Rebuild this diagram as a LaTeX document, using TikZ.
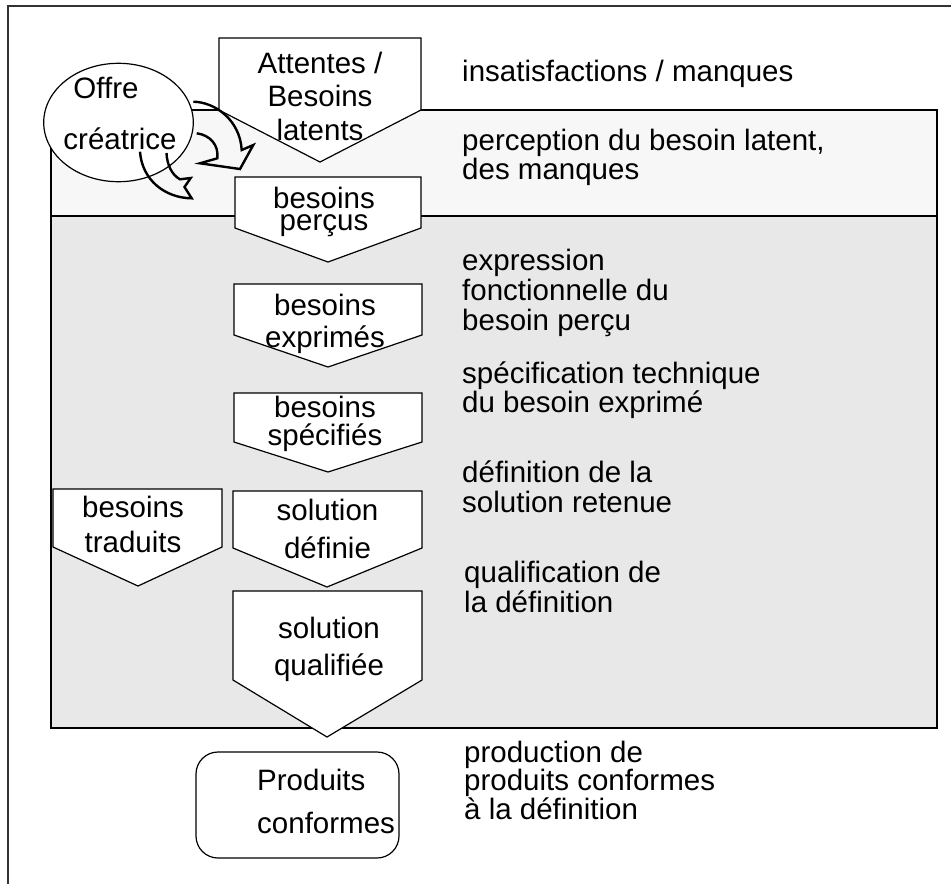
\documentclass[tikz,border=0pt]{standalone}
\usepackage{fontspec}
\setmainfont{Liberation Sans}
\definecolor{bandlight}{HTML}{F7F7F7}
\definecolor{banddark}{HTML}{E8E8E8}
\definecolor{framegray}{HTML}{333333}
\begin{document}
\begin{tikzpicture}[x=1pt,y=-1pt,
  shp/.style={draw=black, line width=1.2pt, fill=white, line join=miter},
  band/.style={draw=black, line width=1.3pt},
  barrow/.style={draw=black, line width=2.4pt, line join=miter},
  lbl/.style={inner sep=0pt, align=center, anchor=base},
  rtxt/.style={inner sep=0pt, align=left, anchor=base west},
  fs/.style={font=\fontsize{29.5}{#1}\selectfont}
]
\useasboundingbox (0,0) rectangle (951,884);
\fill[white] (0,0) rectangle (951,884);
% outer frame (clipped at right and bottom)
\draw[framegray, line width=2pt] (8,884) -- (8,6) -- (951,6);

% bands
\draw[band, fill=bandlight] (51,110) rectangle (937,216);
\draw[band, fill=banddark] (51,216) rectangle (937,728);

% pentagon shapes
\draw[shp] (219,38) -- (421,38) -- (421,110) -- (320,162) -- (219,110) -- cycle;
\draw[shp] (235,177) -- (421,177) -- (421,228) -- (328,262) -- (235,228) -- cycle;
\draw[shp] (234,284) -- (422,284) -- (422,335) -- (328,367) -- (234,335) -- cycle;
\draw[shp] (234,393) -- (422,393) -- (422,442) -- (328,472) -- (234,442) -- cycle;
\draw[shp] (233,491) -- (422,491) -- (422,548) -- (327,587) -- (233,548) -- cycle;
\draw[shp] (53,489) -- (222,489) -- (222,547) -- (138,586) -- (53,547) -- cycle;
\draw[shp] (233,591) -- (422,591) -- (422,680) -- (327,737) -- (233,680) -- cycle;

% rounded box
\draw[shp, rounded corners=22pt] (196,752) rectangle (399,858);

% circle
\draw[shp] (118.5,122.5) ellipse [x radius=74.8, y radius=59.2];
\node[lbl, fs=30] (offre) at (106,98) {Offre};
\node[lbl, fs=30] (creatrice) at (120,149) {créatrice};

% curved block arrows (outlines)
\draw[barrow] (193.3,101.7) .. controls (215,102) and (240,120) .. (241.7,150)
  -- (253.3,145) -- (240,169) -- (200,163.3) -- (217.3,158.3)
  .. controls (219,145) and (210,135) .. (196.7,133.3);
\draw[barrow] (140,151.7) .. controls (142,180) and (165,198) .. (191.7,198.3)
  -- (184.5,187) -- (190.7,178) -- (180,179.3)
  .. controls (172,175) and (167,165) .. (166.5,153);

% shape labels (anchor = baseline of last line)
\node[lbl, fs=33.5] (attentes) at (320,140) {Attentes /\\Besoins\\latents};
\node[lbl, fs=21.5] (percus) at (324,230) {besoins\\perçus};
\node[lbl, fs=32] (exprimes) at (325,347) {besoins\\exprimés};
\node[lbl, fs=28] (specifies) at (325,445) {besoins\\spécifiés};
\node[lbl, fs=38] (definie) at (327.5,558) {solution\\définie};
\node[lbl, fs=35] (traduits) at (133,552) {besoins\\traduits};
\node[lbl, fs=37] (qualifiee) at (329,675) {solution\\qualifiée};
\node[rtxt, fs=43] (produits) at (257,833) {Produits\\conformes};

% right column texts
\node[rtxt, fs=30] (t1) at (462,81) {insatisfactions / manques};
\node[rtxt, fs=22.5] (t2) at (462,179) {perception du besoin latent,\\des manques};
\node[rtxt, fs=30] (t3) at (462,330) {expression\\fonctionnelle du\\besoin perçu};
\node[rtxt, fs=29] (t4) at (462,412) {spécification technique\\du besoin exprimé};
\node[rtxt, fs=30] (t5) at (462,512) {définition de la\\solution retenue};
\node[rtxt, fs=29.5] (t6) at (464,612) {qualification de\\la définition};
\node[rtxt, fs=28.5] (t7) at (464,819) {production de\\produits conformes\\à la définition};
\end{tikzpicture}
\end{document}
